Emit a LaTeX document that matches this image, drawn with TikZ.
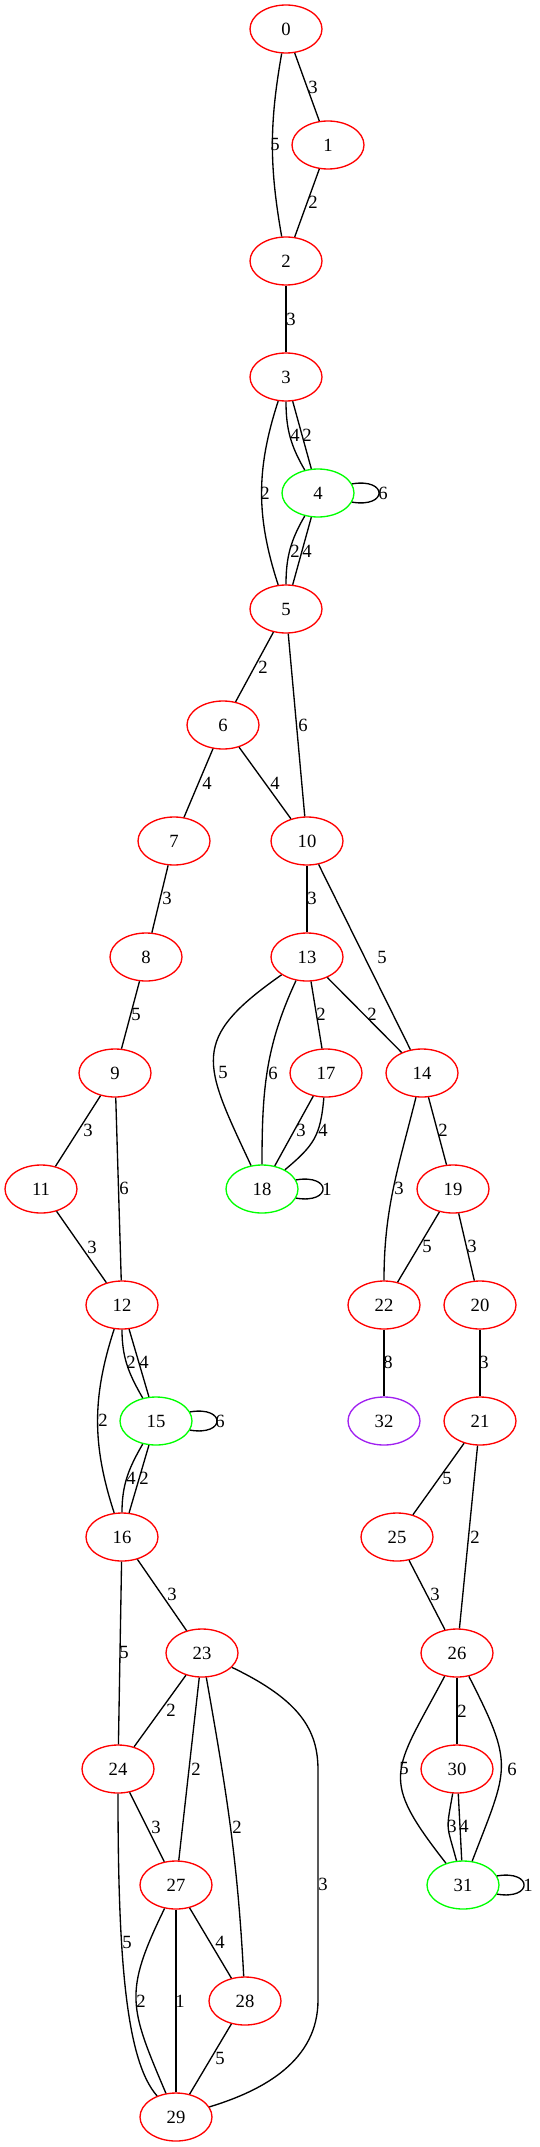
\documentclass[tikz,border=0pt]{standalone}
\usepackage{fontspec}
\setmainfont{Liberation Serif}
\usetikzlibrary{shapes.geometric}
\definecolor{gvgreen}{HTML}{00FF00}
\definecolor{gvpurple}{HTML}{A020F0}
\definecolor{gvred}{HTML}{FF0000}
\begin{document}
\begin{tikzpicture}[x=0.75pt,y=-0.75pt,
  vtx/.style={ellipse,draw=gvred,line width=1pt,minimum width=54pt,minimum height=36pt,inner sep=0pt,font=\fontsize{14}{16}\selectfont},
  gvtx/.style={vtx,draw=gvgreen},
  pvtx/.style={vtx,draw=gvpurple},
  lbl/.style={inner sep=0pt,font=\fontsize{14}{16}\selectfont},
  lnk/.style={line width=1pt,black}]
\useasboundingbox (0,0) rectangle (539,2147);
% nodes
\node[vtx] (n0) at (286,29) {0};
\node[vtx] (n1) at (328,145) {1};
\node[vtx] (n2) at (286,261) {2};
\node[vtx] (n3) at (286,377) {3};
\node[gvtx] (n4) at (318,493) {4};
\node[vtx] (n5) at (286,609) {5};
\node[vtx] (n6) at (223,725) {6};
\node[vtx] (n7) at (174,841) {7};
\node[vtx] (n10) at (307,841) {10};
\node[vtx] (n8) at (146,957) {8};
\node[vtx] (n13) at (307,957) {13};
\node[vtx] (n9) at (115,1073) {9};
\node[vtx] (n17) at (326,1073) {17};
\node[vtx] (n14) at (422,1073) {14};
\node[vtx] (n11) at (41,1189) {11};
\node[gvtx] (n18) at (262,1189) {18};
\node[vtx] (n19) at (453,1189) {19};
\node[vtx] (n12) at (122,1305) {12};
\node[vtx] (n22) at (384,1305) {22};
\node[vtx] (n20) at (480,1305) {20};
\node[gvtx] (n15) at (156,1421) {15};
\node[pvtx] (n32) at (384,1421) {32};
\node[vtx] (n21) at (480,1421) {21};
\node[vtx] (n16) at (122,1537) {16};
\node[vtx] (n25) at (397,1537) {25};
\node[vtx] (n23) at (202,1653) {23};
\node[vtx] (n26) at (457,1653) {26};
\node[vtx] (n24) at (118,1769) {24};
\node[vtx] (n30) at (457,1769) {30};
\node[vtx] (n27) at (176,1885) {27};
\node[gvtx] (n31) at (463,1885) {31};
\node[vtx] (n28) at (245,2001) {28};
\node[vtx] (n29) at (176,2117) {29};
% edges
\draw[lnk] (n0) -- (n1);
\draw[lnk] (n0) to[out=-100,in=100] (n2);
\draw[lnk] (n1) -- (n2);
\draw[lnk] (n2) -- (n3);
\draw[lnk] (n3) to[out=-90,in=120] (n4);
\draw[lnk] (n3) -- (n4);
\draw[lnk] (n3) to[out=-108,in=108] (n5);
\draw[lnk] (n4.15) .. controls +(36,-6) and +(36,6) .. (n4.-15);
\draw[lnk] (n4) to[out=-120,in=90] (n5);
\draw[lnk] (n4) -- (n5);
\draw[lnk] (n5) -- (n6);
\draw[lnk] (n5) -- (n10);
\draw[lnk] (n6) -- (n7);
\draw[lnk] (n6) -- (n10);
\draw[lnk] (n7) -- (n8);
\draw[lnk] (n8) -- (n9);
\draw[lnk] (n9) -- (n11);
\draw[lnk] (n9) -- (n12);
\draw[lnk] (n10) -- (n13);
\draw[lnk] (n10) -- (n14);
\draw[lnk] (n11) -- (n12);
\draw[lnk] (n12) to[out=-90,in=120] (n15);
\draw[lnk] (n12) -- (n15);
\draw[lnk] (n12) to[out=-108,in=108] (n16);
\draw[lnk] (n13) to[out=-145,in=115,looseness=1.5] (n18);
\draw[lnk] (n13) to[out=-115,in=90] (n18);
\draw[lnk] (n13) -- (n17);
\draw[lnk] (n13) -- (n14);
\draw[lnk] (n14) to[out=-104,in=90] (n22);
\draw[lnk] (n14) -- (n19);
\draw[lnk] (n15.15) .. controls +(36,-6) and +(36,6) .. (n15.-15);
\draw[lnk] (n15) to[out=-120,in=90] (n16);
\draw[lnk] (n15) -- (n16);
\draw[lnk] (n16) -- (n23);
\draw[lnk] (n16) -- (n24);
\draw[lnk] (n17) -- (n18);
\draw[lnk] (n17) to[out=-95,in=40,looseness=1.2] (n18);
\draw[lnk] (n18.15) .. controls +(36,-6) and +(36,6) .. (n18.-15);
\draw[lnk] (n19) -- (n22);
\draw[lnk] (n19) -- (n20);
\draw[lnk] (n20) -- (n21);
\draw[lnk] (n21) -- (n25);
\draw[lnk] (n21) -- (n26);
\draw[lnk] (n22) -- (n32);
\draw[lnk] (n23) -- (n24);
\draw[lnk] (n23) -- (n27);
\draw[lnk] (n23) to[out=-80,in=93] (n28);
\draw[lnk] (n23) .. controls (300,1700) and (318,1730) .. (318,1770) -- (318,2000) .. controls (318,2060) and (265,2090) .. (n29);
\draw[lnk] (n24) -- (n27);
\draw[lnk] (n24) .. controls (118,1950) and (125,2060) .. (n29);
\draw[lnk] (n25) -- (n26);
\draw[lnk] (n26) -- (n30);
\draw[lnk] (n26) to[out=-118,in=128,looseness=1.5] (n31);
\draw[lnk] (n26) to[out=-63,in=69,looseness=1.4] (n31);
\draw[lnk] (n27) -- (n28);
\draw[lnk] (n27) to[out=-116,in=113,looseness=1.3] (n29);
\draw[lnk] (n27) -- (n29);
\draw[lnk] (n28) -- (n29);
\draw[lnk] (n30) to[out=-100,in=105,looseness=1.5] (n31);
\draw[lnk] (n30) -- (n31);
\draw[lnk] (n31.15) .. controls +(36,-6) and +(36,6) .. (n31.-15);
% edge labels
\node[lbl] (l0) at (275,144) {5};
\node[lbl] (l1) at (313,87) {3};
\node[lbl] (l2) at (313,202) {2};
\node[lbl] (l3) at (291,319) {3};
\node[lbl] (l4) at (295,435) {4};
\node[lbl] (l5) at (307,435) {2};
\node[lbl] (l6) at (265,493) {2};
\node[lbl] (l7) at (383,493) {6};
\node[lbl] (l8) at (295,551) {2};
\node[lbl] (l9) at (307,551) {4};
\node[lbl] (l10) at (263,667) {2};
\node[lbl] (l11) at (303,725) {6};
\node[lbl] (l12) at (207,783) {4};
\node[lbl] (l13) at (275,783) {4};
\node[lbl] (l14) at (167,898) {3};
\node[lbl] (l15) at (312,898) {3};
\node[lbl] (l16) at (382,957) {5};
\node[lbl] (l17) at (136,1014) {5};
\node[lbl] (l18) at (223,1072) {5};
\node[lbl] (l19) at (273,1073) {6};
\node[lbl] (l20) at (321,1014) {2};
\node[lbl] (l21) at (372,1014) {2};
\node[lbl] (l22) at (88,1130) {3};
\node[lbl] (l23) at (124,1188) {6};
\node[lbl] (l24) at (92,1247) {3};
\node[lbl] (l25) at (301,1130) {3};
\node[lbl] (l26) at (323,1130) {4};
\node[lbl] (l27) at (327,1189) {1};
\node[lbl] (l28) at (399,1188) {3};
\node[lbl] (l29) at (443,1130) {2};
\node[lbl] (l30) at (427,1246) {5};
\node[lbl] (l31) at (472,1246) {3};
\node[lbl] (l32) at (388,1362) {8};
\node[lbl] (l33) at (484,1362) {3};
\node[lbl] (l34) at (131,1362) {2};
\node[lbl] (l35) at (144,1362) {4};
\node[lbl] (l36) at (103,1420) {2};
\node[lbl] (l37) at (220,1421) {6};
\node[lbl] (l38) at (131,1478) {4};
\node[lbl] (l39) at (144,1478) {2};
\node[lbl] (l40) at (172,1594) {3};
\node[lbl] (l41) at (124,1652) {5};
\node[lbl] (l42) at (171,1710) {2};
\node[lbl] (l43) at (196,1769) {2};
\node[lbl] (l44) at (237,1827) {2};
\node[lbl] (l45) at (323,1884) {3};
\node[lbl] (l46) at (156,1827) {3};
\node[lbl] (l47) at (127,1942) {5};
\node[lbl] (l48) at (141,2001) {2};
\node[lbl] (l49) at (180,2001) {1};
\node[lbl] (l50) at (220,1942) {4};
\node[lbl] (l51) at (220,2058) {5};
\node[lbl] (l52) at (447,1478) {5};
\node[lbl] (l53) at (475,1537) {2};
\node[lbl] (l54) at (435,1594) {3};
\node[lbl] (l55) at (462,1711) {2};
\node[lbl] (l56) at (404,1768) {5};
\node[lbl] (l57) at (512,1769) {6};
\node[lbl] (l58) at (452,1826) {3};
\node[lbl] (l59) at (464,1826) {4};
\node[lbl] (l60) at (528,1885) {1};
\end{tikzpicture}
\end{document}
